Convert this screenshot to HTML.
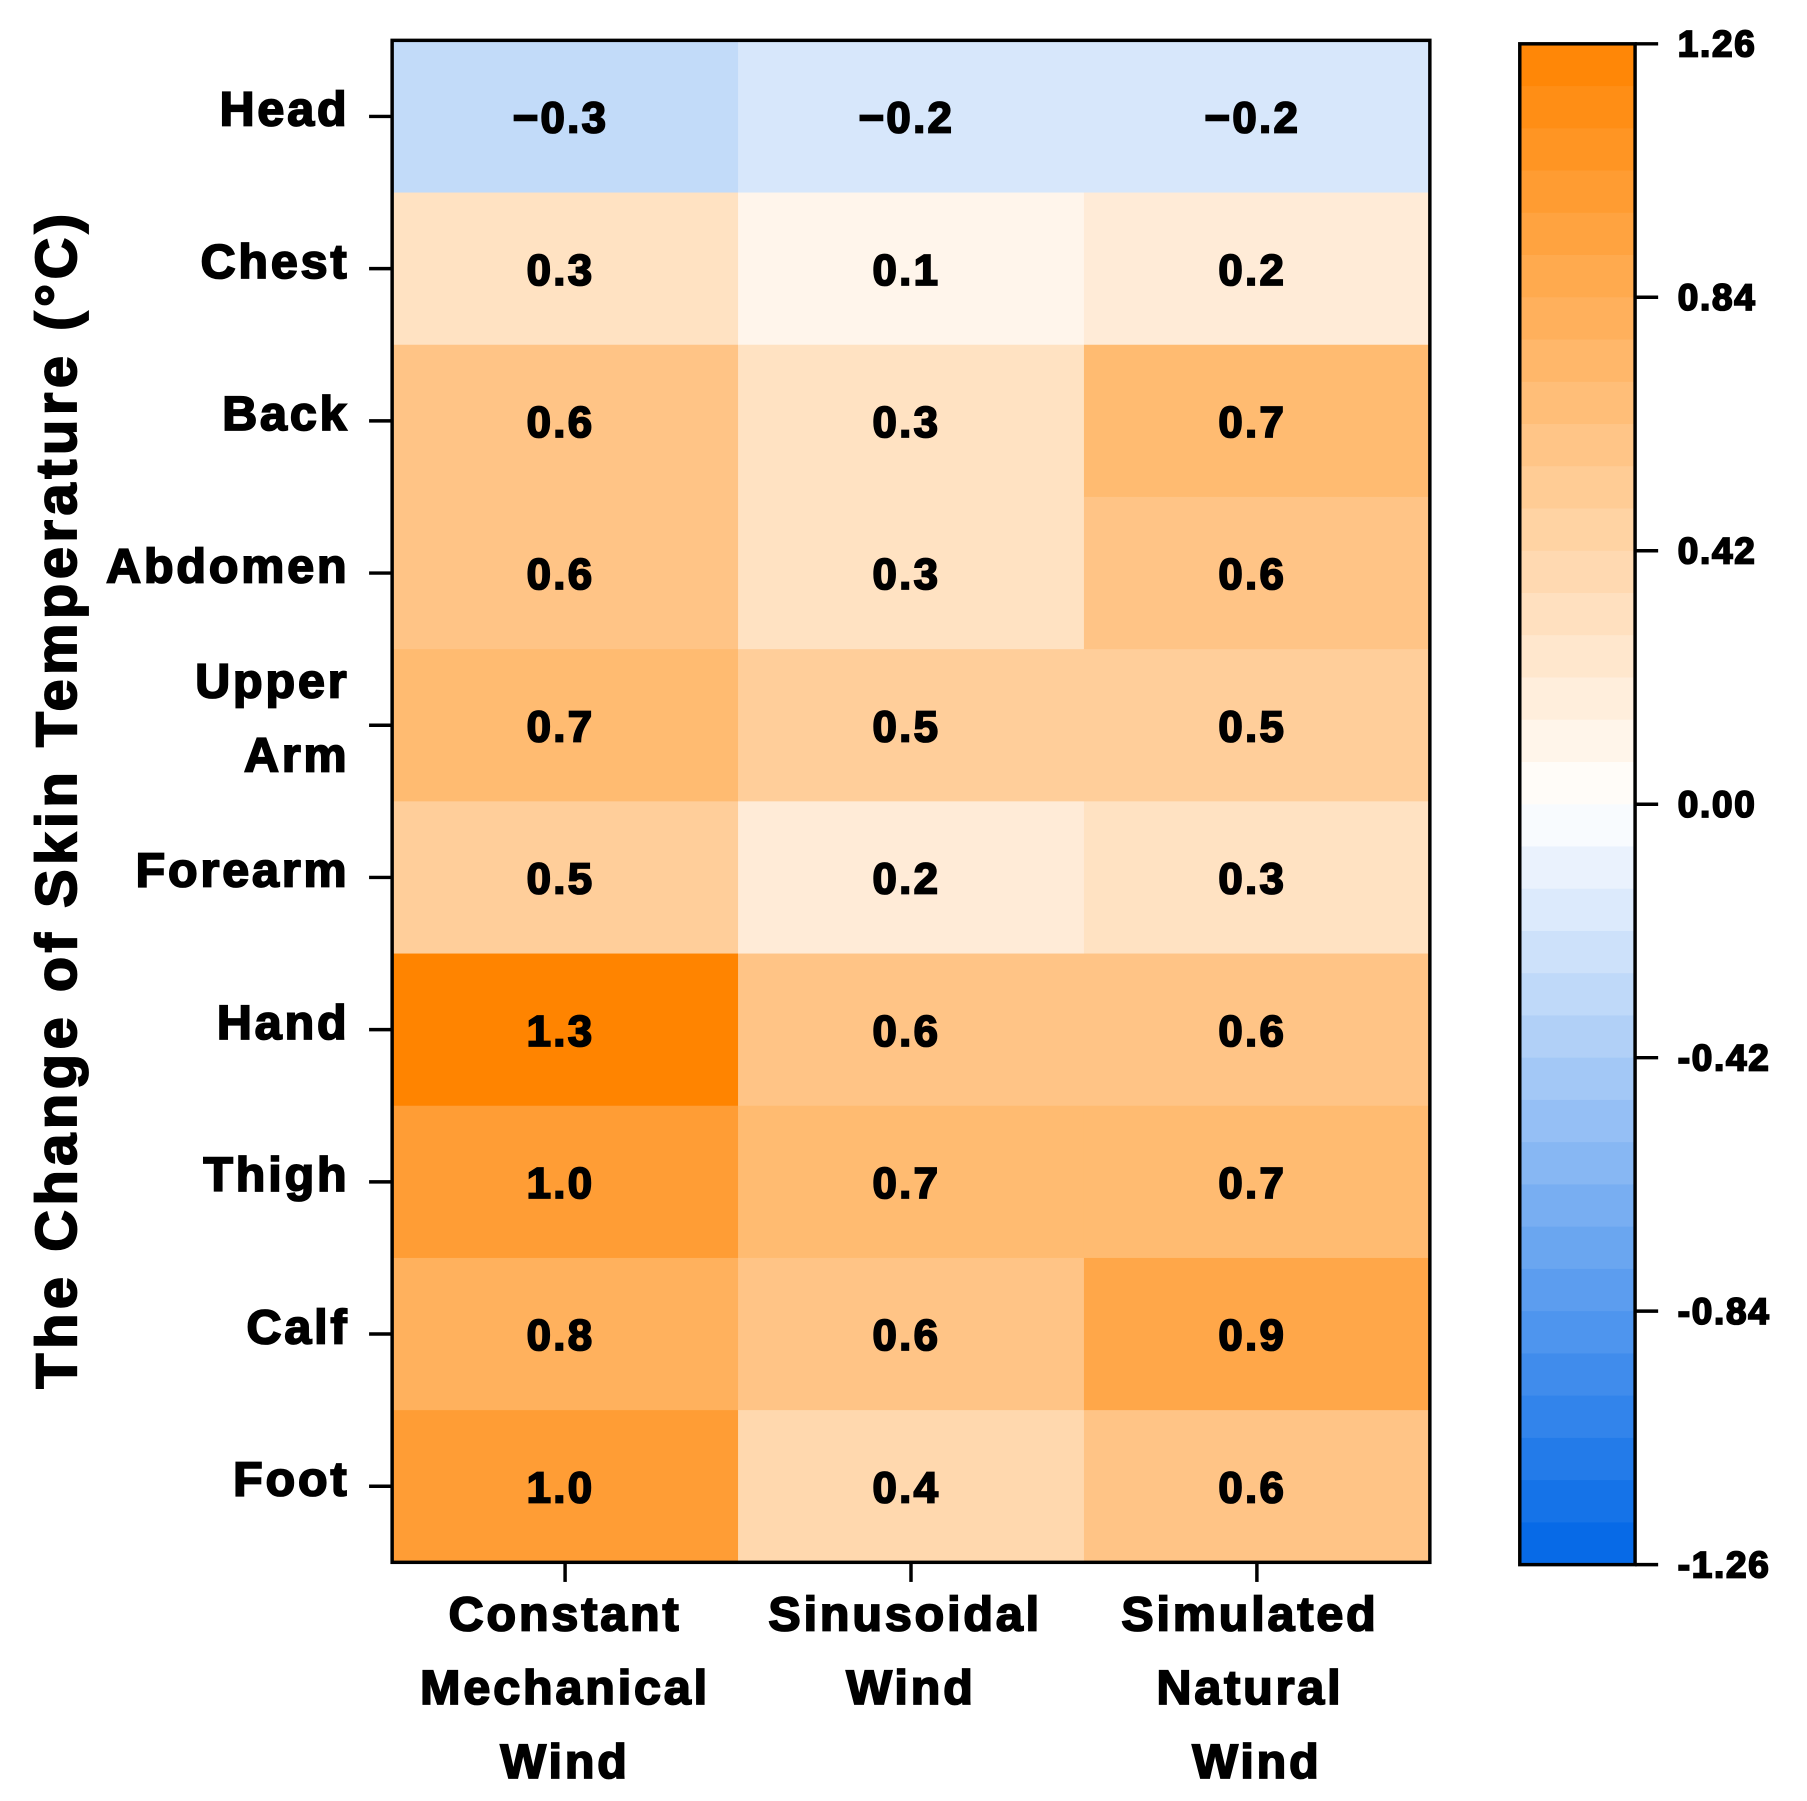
<!DOCTYPE html>
<html><head><meta charset="utf-8"><style>
html,body{margin:0;padding:0;background:#fff;}
svg{display:block;font-family:"Liberation Sans",Arial,sans-serif;font-weight:bold;}
text{stroke:#000;stroke-width:1.6px;}
</style></head><body>
<svg id="chart" width="1807" height="1801" viewBox="0 0 1567 1562" xmlns="http://www.w3.org/2000/svg">
<g id="cells"></g>
<g id="labels"></g>
<rect x="340" y="35" width="900" height="1320" fill="none" stroke="#000" stroke-width="3"/>
<g id="yaxis"></g>
<g id="xaxis"></g>
<text transform="translate(66,693) rotate(-90)" text-anchor="middle" font-size="50" letter-spacing="4">The Change of Skin Temperature (°C)</text>
<g id="cbar"></g>
</svg>
<script>
const rows = ["Head","Chest","Back","Abdomen","Upper Arm","Forearm","Hand","Thigh","Calf","Foot"];
const cols = ["Constant Mechanical Wind","Sinusoidal Wind","Simulated Natural Wind"];
const constantVals = [-0.3,0.3,0.6,0.6,0.7,0.5,1.3,1.0,0.8,1.0];
const sinusoidalVals = [-0.2,0.1,0.3,0.3,0.5,0.2,0.6,0.7,0.6,0.4];
const naturalVals = [-0.2,0.2,0.7,0.6,0.5,0.3,0.6,0.7,0.9,0.6];
const cbTicks = [1.26,0.84,0.42,0.00,-0.42,-0.84,-1.26];
const cbTickLabels = ["1.26","0.84","0.42","0.00","-0.42","-0.84","-1.26"];
const vmin=-1.26, vmax=1.26;
const series=[constantVals,sinusoidalVals,naturalVals];
const NS="http://www.w3.org/2000/svg";
const px0=340,px1=1240,py0=35,py1=1355;
const cw=(px1-px0)/cols.length, rh=(py1-py0)/rows.length;
const xCenter=i=>px0+cw*(i+0.5);
const yCenter=j=>py0+rh*(j+0.5);
function color(v){
  let t=Math.max(-1,Math.min(1,v/vmax));
  if(t>=0) return `rgb(255,${Math.round(255-t*123)},${Math.round(255-t*255)})`;
  t=-t; return `rgb(${Math.round(255-t*255)},${Math.round(255-t*153)},${Math.round(255-t*25)})`;
}
function mk(tag,attrs,parent){const e=document.createElementNS(NS,tag);for(const k in attrs)e.setAttribute(k,attrs[k]);parent.appendChild(e);return e;}
const gC=document.getElementById('cells'),gL=document.getElementById('labels');
series.forEach((vals,i)=>vals.forEach((v,j)=>{
  const r=mk('rect',{x:px0+cw*i,y:py0+rh*j,width:cw+0.5,height:rh+0.5,fill:color(v)},gC);
  
  
  const t=mk('text',{x:xCenter(i)-4,y:yCenter(j)+14,'text-anchor':'middle','font-size':38,'letter-spacing':2},gL);
  t.textContent=v<0?'\u2212'+Math.abs(v).toFixed(1):v.toFixed(1);
  
  
}));
const gY=document.getElementById('yaxis');
rows.forEach((r,j)=>{
  const y=yCenter(j);
  mk('line',{x1:320,x2:340,y1:y,y2:y,stroke:'#000','stroke-width':3},gY);
  const parts=r.split(' ');
  parts.forEach((p,k)=>{
    const t=mk('text',{x:303,y:y+8+(k-(parts.length-1)/2)*64,'text-anchor':'end','font-size':42,'letter-spacing':2.5},gY);
    t.textContent=p;
    
    
  });
});
const gX=document.getElementById('xaxis');
const xLines=[["Constant","Mechanical","Wind"],["Sinusoidal","Wind"],["Simulated","Natural","Wind"]];
cols.forEach((c,i)=>{
  const x=xCenter(i);
  mk('line',{x1:x,x2:x,y1:1355,y2:1372,stroke:'#000','stroke-width':3},gX);
  xLines[i].forEach((p,k)=>{
    const t=mk('text',{x:x-(i==1&&k==0?5:0)-(i==2&&k<2?6:0),y:1414+k*64,'text-anchor':'middle','font-size':42,'letter-spacing':2.5},gX);
    t.textContent=p;
    
    
  });
});
const gB=document.getElementById('cbar');
const cx0=1318,cx1=1418,cy0=38,cy1=1357,N=36;
const cbY=v=>cy0+(vmax-v)/(vmax-vmin)*(cy1-cy0);
for(let k=0;k<N;k++){
  const v=vmax-(k+0.5)*(vmax-vmin)/N;
  const r=mk('rect',{x:cx0,y:cy0+k*(cy1-cy0)/N,width:cx1-cx0,height:(cy1-cy0)/N+0.6,fill:color(v)},gB);
  
  
}
mk('rect',{x:cx0,y:cy0,width:cx1-cx0,height:cy1-cy0,fill:'none',stroke:'#000','stroke-width':3},gB);
cbTicks.forEach((v,k)=>{
  const y=cbY(v);
  mk('line',{x1:cx1,x2:1438,y1:y,y2:y,stroke:'#000','stroke-width':3},gB);
  const t=mk('text',{x:1455,y:y+11,'font-size':32,'letter-spacing':1.5},gB);
  t.textContent=cbTickLabels[k];
  
  
});
</script>
</body></html>
